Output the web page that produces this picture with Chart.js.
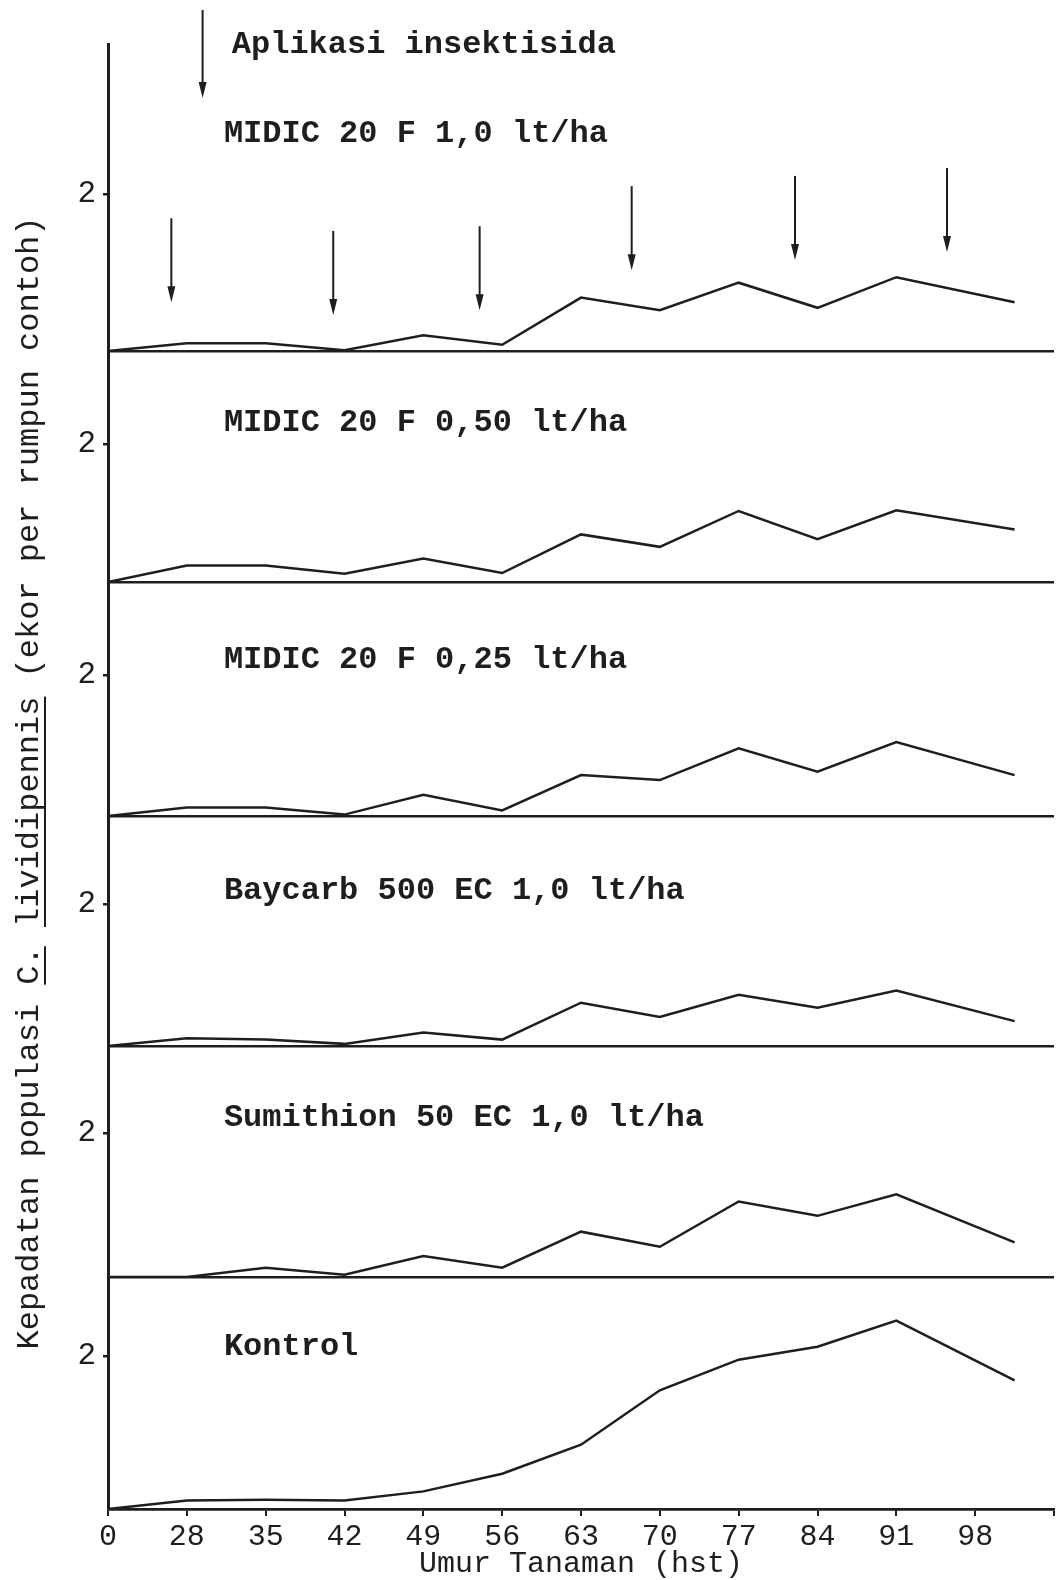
<!DOCTYPE html>
<html>
<head>
<meta charset="utf-8">
<script src="https://cdn.jsdelivr.net/npm/chart.js@4"></script>
<style>
  html, body { margin: 0; padding: 0; background: #fff; }
  #wrap { width: 1059px; height: 1580px; }
</style>
</head>
<body>
<div id="wrap"><canvas id="chart" width="1059" height="1580"></canvas></div>
<script>
// values (ekor per rumpun contoh)
const tickLabels = ['0', '28', '35', '42', '49', '56', '63', '70', '77', '84', '91', '98'];
const sampleDays = [0, 28, 35, 42, 49, 56, 63, 70, 77, 84, 91, 101.5];
const midic10 = [0, 0.10, 0.10, 0.01, 0.20, 0.08, 0.68, 0.52, 0.87, 0.55, 0.94, 0.62];
const midic050 = [0, 0.24, 0.24, 0.12, 0.34, 0.13, 0.69, 0.51, 1.03, 0.62, 1.04, 0.76];
const midic025 = [0, 0.12, 0.12, 0.02, 0.30, 0.08, 0.58, 0.51, 0.96, 0.63, 1.05, 0.58];
const baycarb = [0, 0.11, 0.09, 0.03, 0.19, 0.09, 0.61, 0.41, 0.72, 0.54, 0.78, 0.35];
const sumithion = [0, 0, 0.13, 0.03, 0.29, 0.13, 0.63, 0.42, 1.05, 0.85, 1.15, 0.48];
const kontrol = [0, 0.11, 0.12, 0.11, 0.23, 0.46, 0.84, 1.55, 1.95, 2.12, 2.46, 1.68];
const panelNames = ['MIDIC 20 F 1,0 lt/ha', 'MIDIC 20 F 0,50 lt/ha', 'MIDIC 20 F 0,25 lt/ha',
  'Baycarb 500 EC 1,0 lt/ha', 'Sumithion 50 EC 1,0 lt/ha', 'Kontrol'];
const applicationDays = [22.5, 41, 54, 67.5, 82, 95.5];
const arrowTips = [0.62, 0.46, 0.52, 1.03, 1.16, 1.26];

// panel layout (top to bottom)
const panelHeights = [307, 231, 234, 230, 231, 232];
const panelMax = [3.91, 3.35, 3.32, 3.24, 3.21, 3.03];
const labelLevels = [2.76, 2.30, 2.21, 2.18, 2.21, 2.12];

const ink = '#1e1e1e';
const mono = "'Liberation Mono', 'DejaVu Sans Mono', monospace";
const series = [midic10, midic050, midic025, baycarb, sumithion, kontrol];

// axis is broken between 0 and 28, then one step per week
function dayToPos(d) {
  if (d <= 0) return 0;
  if (d < 28) return d / 28;
  return 1 + (d - 28) / 7;
}

const datasets = series.map((vals, i) => ({
  label: panelNames[i],
  data: vals.map((v, j) => ({ x: dayToPos(sampleDays[j]), y: v })),
  yAxisID: 'y' + (i + 1),
  borderColor: ink,
  borderWidth: 2.5,
  pointRadius: 0,
  tension: 0,
  fill: false
}));

const scales = {
  x: {
    type: 'linear',
    position: 'bottom',
    min: 0,
    max: 12,
    afterBuildTicks: (s) => { s.ticks = tickLabels.map((_, i) => ({ value: i })).concat([{ value: 12 }]); },
    afterFit: (s) => { s.height = 71; },
    ticks: {
      autoSkip: false,
      maxRotation: 0,
      padding: 3,
      color: ink,
      font: { family: mono, size: 30 },
      callback: (v) => tickLabels[v] !== undefined ? tickLabels[v] : ''
    },
    grid: { drawOnChartArea: false, tickLength: 7, tickColor: ink, lineWidth: 2 },
    border: { display: true, color: ink, width: 2.5 },
    title: {
      display: true,
      text: 'Umur Tanaman (hst)',
      color: ink,
      font: { family: mono, size: 30, lineHeight: 1 },
      padding: { top: 0, bottom: 1 }
    }
  }
};

panelHeights.forEach((h, i) => {
  scales['y' + (i + 1)] = {
    type: 'linear',
    position: 'left',
    stack: 'panels',
    stackWeight: h,
    weight: 6 - i,
    min: 0,
    max: panelMax[i],
    afterBuildTicks: (s) => { s.ticks = [{ value: 0 }, { value: 2 }]; },
    afterFit: (s) => { s.width = 108; },
    ticks: {
      padding: 7,
      color: ink,
      font: { family: mono, size: 31 },
      callback: (v) => v === 2 ? '2' : ''
    },
    grid: {
      lineWidth: 2.5,
      tickLength: 5,
      color: (c) => c.tick && c.tick.value === 0 ? ink : 'rgba(0,0,0,0)',
      tickColor: (c) => c.tick && c.tick.value === 2 ? ink : 'rgba(0,0,0,0)'
    },
    border: { display: true, color: ink, width: 3 }
  };
});

function drawArrow(ctx, x, yTop, yTip) {
  ctx.beginPath();
  ctx.moveTo(x, yTop);
  ctx.lineTo(x, yTip - 10);
  ctx.stroke();
  ctx.beginPath();
  ctx.moveTo(x - 4, yTip - 16);
  ctx.lineTo(x + 4, yTip - 16);
  ctx.lineTo(x, yTip);
  ctx.closePath();
  ctx.fill();
}

const annotations = {
  id: 'annotations',
  afterDraw(chart) {
    const ctx = chart.ctx;
    const xs = chart.scales.x;
    const area = chart.chartArea;
    ctx.save();
    ctx.fillStyle = ink;
    ctx.strokeStyle = ink;
    ctx.lineWidth = 2;
    ctx.font = 'bold 32px ' + mono;
    ctx.textAlign = 'left';
    ctx.textBaseline = 'middle';

    // panel names
    panelNames.forEach((name, i) => {
      const ys = chart.scales['y' + (i + 1)];
      ctx.fillText(name, xs.getPixelForValue(1.47), ys.getPixelForValue(labelLevels[i]));
    });

    // legend for the arrows
    const lx = xs.getPixelForValue(1.2);
    drawArrow(ctx, lx, area.top - 34, area.top + 54);
    ctx.fillText('Aplikasi insektisida', xs.getPixelForValue(1.57), area.top + 1);

    // application arrows in the first panel
    const y1 = chart.scales.y1;
    applicationDays.forEach((d, i) => {
      const x = xs.getPixelForValue(dayToPos(d));
      drawArrow(ctx, x, y1.getPixelForValue(arrowTips[i] + 1.07), y1.getPixelForValue(arrowTips[i]));
    });

    // y axis title, with the species name underlined
    ctx.font = '32px ' + mono;
    const parts = ['Kepadatan populasi ', 'C.', ' ', 'lividipennis', ' (ekor per rumpun contoh)'];
    const full = parts.join('');
    ctx.translate(30, 783);
    ctx.rotate(-Math.PI / 2);
    const total = ctx.measureText(full).width;
    let px = -total / 2;
    parts.forEach((p, k) => {
      const w = ctx.measureText(p).width;
      ctx.fillText(p, px, 0);
      if (k === 1 || k === 3) {
        ctx.fillRect(px, 14, w, 2);
      }
      px += w;
    });
    ctx.restore();
  }
};

new Chart(document.getElementById('chart'), {
  type: 'line',
  data: { datasets: datasets },
  options: {
    responsive: false,
    devicePixelRatio: 1,
    animation: false,
    layout: { padding: { top: 44, right: 5, bottom: 0, left: 0 } },
    plugins: { legend: { display: false }, tooltip: { enabled: false } },
    scales: scales
  },
  plugins: [annotations]
});
</script>
</body>
</html>
